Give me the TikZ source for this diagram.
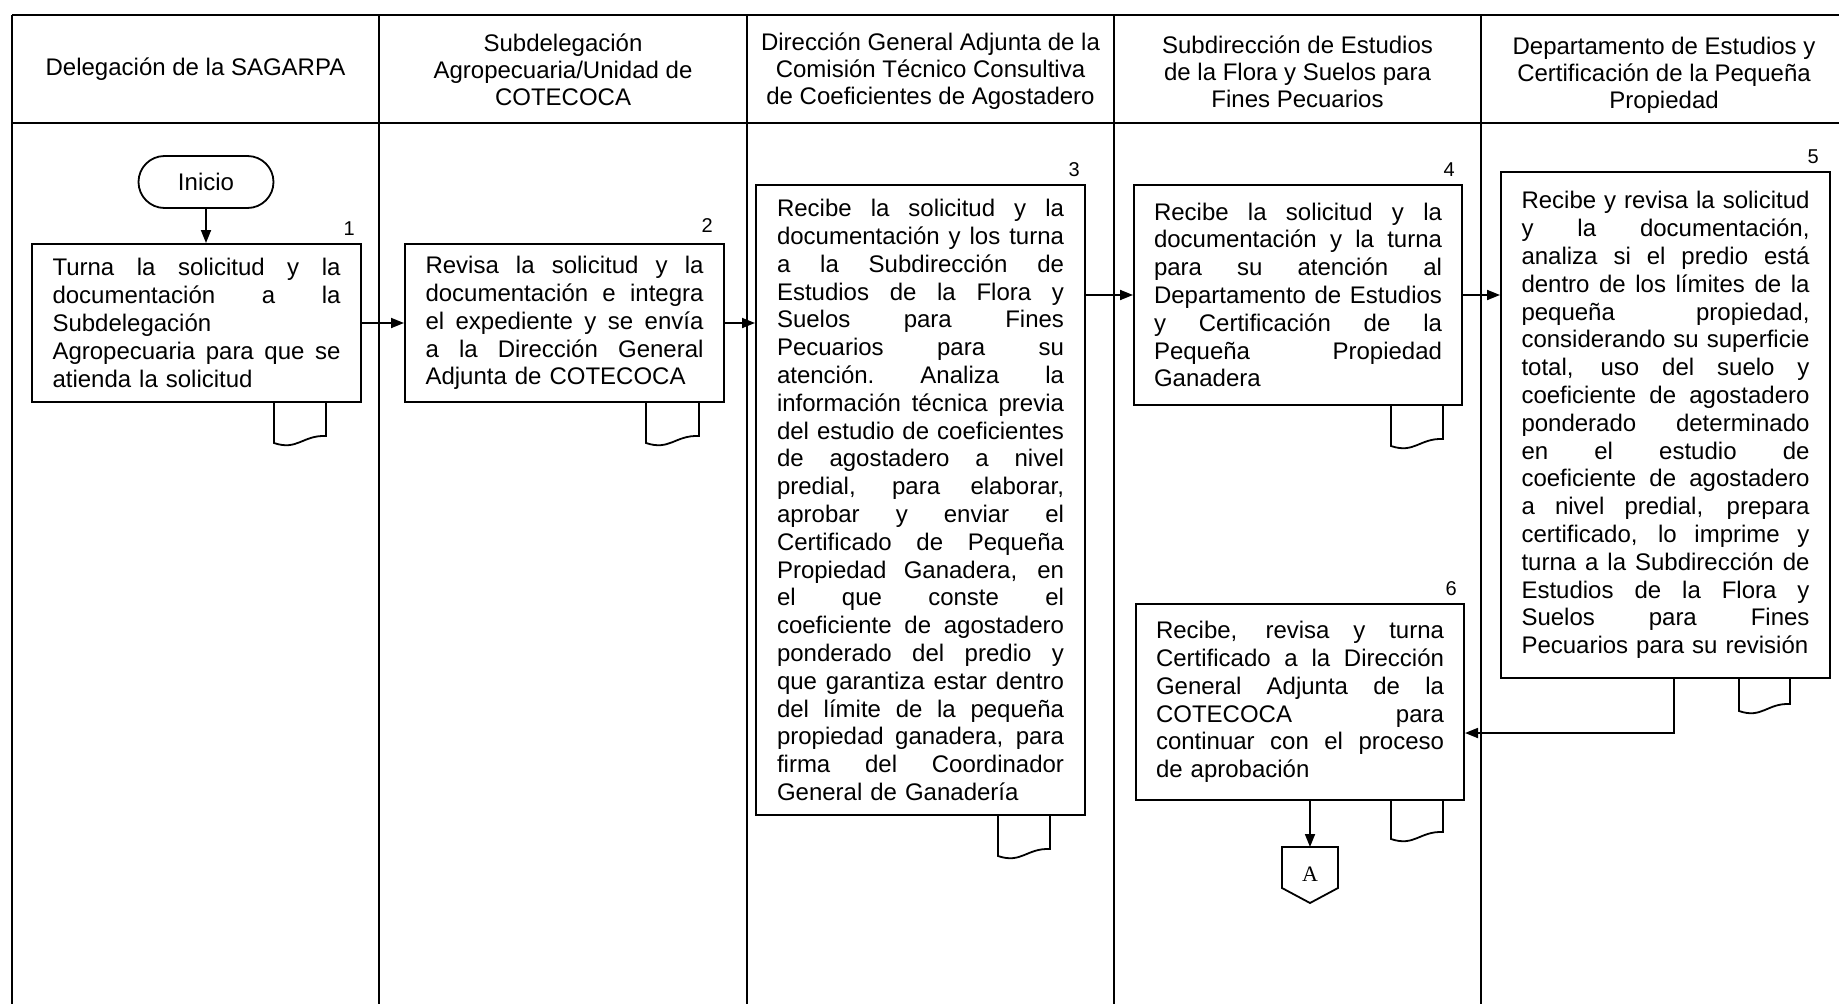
\documentclass[tikz,border=0pt]{standalone}
\usepackage{fontspec}
\setmainfont{Liberation Sans}
\newfontfamily\conffont{Liberation Serif}
\usetikzlibrary{arrows.meta,calc}
\setlength{\parindent}{0pt}
\newlength{\jw}
\newcommand{\jl}[1]{\leavevmode\hbox to \jw{\spaceskip=\fontdimen2\font plus 1fill\relax\xspaceskip=\spaceskip #1}\\}
\newcommand{\docmark}[4]{% left, right, top, height
  \draw[docline] (#1,#3) -- (#1,#3+#4) .. controls ({#1+0.45*(#2-#1)},#3+#4+8) and ({#1+0.55*(#2-#1)},#3+#4-8) .. (#2,#3+#4-7) -- (#2,#3);}
\begin{document}
\begin{tikzpicture}[x=1pt,y=-1pt,
  lane/.style={line width=1.5pt},
  box/.style={draw, line width=2pt, inner sep=0pt, align=left, font=\fontsize{24}{27.8}\selectfont},
  tw/.style={text width=#1, execute at begin node={\setlength{\jw}{#1}}},
  head/.style={align=center, font=\fontsize{24}{27}\selectfont, inner sep=0pt},
  num/.style={font=\fontsize{20}{22}\selectfont, anchor=south east, inner sep=0pt},
  flow/.style={line width=1.8pt, -{Triangle[length=13pt,width=10pt]}},
  docline/.style={line width=1.8pt}]
\useasboundingbox (0,0) rectangle (1839,1004);
% swimlanes
\draw[line width=2.5pt] (12,15) -- (1839,15);
\draw[line width=2.5pt] (12,123) -- (1839,123);
\foreach \x in {12,379,747,1114,1481} \draw[lane] (\x,15) -- (\x,1004);
% headers
\node[head] (h1) at (195.5,69) {Delegación de la SAGARPA};
\node[head] (h2) at (563,70) {Subdelegación\\Agropecuaria/Unidad de\\COTECOCA};
\node[head] (h3) at (930.5,71) {Dirección General Adjunta de la\\Comisión Técnico Consultiva\\de Coeficientes de Agostadero};
\node[head] (h4) at (1297.5,72) {Subdirección de Estudios\\de la Flora y Suelos para\\Fines Pecuarios};
\node[head] (h5) at (1664,75) {Departamento de Estudios y\\Certificación de la Pequeña\\Propiedad};
% start
\node[draw, line width=1.8pt, rounded corners=26pt, minimum width=135pt, minimum height=52pt, inner sep=0pt, font=\fontsize{24}{24}\selectfont] (ini) at (206,182) {Inicio};
% boxes
\node[box, tw=288pt, minimum width=329pt, minimum height=158pt] (b1) at (196.5,323) {%
\jl{Turna la solicitud y la}
\jl{documentación a la}
Subdelegación\\
\jl{Agropecuaria para que se}
atienda la solicitud};
\node[box, tw=278pt, minimum width=319pt, minimum height=158pt] (b2) at (564.5,323) {%
\jl{Revisa la solicitud y la}
\jl{documentación e integra}
\jl{el expediente y se envía}
\jl{a la Dirección General}
Adjunta de COTECOCA};
\node[box, tw=287pt, minimum width=329pt, minimum height=630pt] (b3) at (920.5,500) {%
\jl{Recibe la solicitud y la}
\jl{documentación y los turna}
\jl{a la Subdirección de}
\jl{Estudios de la Flora y}
\jl{Suelos para Fines}
\jl{Pecuarios para su}
\jl{atención. Analiza la}
\jl{información técnica previa}
\jl{del estudio de coeficientes}
\jl{de agostadero a nivel}
\jl{predial, para elaborar,}
\jl{aprobar y enviar el}
\jl{Certificado de Pequeña}
\jl{Propiedad Ganadera, en}
\jl{el que conste el}
\jl{coeficiente de agostadero}
\jl{ponderado del predio y}
\jl{que garantiza estar dentro}
\jl{del límite de la pequeña}
\jl{propiedad ganadera, para}
\jl{firma del Coordinador}
General de Ganadería};
\node[box, tw=288pt, minimum width=328pt, minimum height=220pt] (b4) at (1298,295) {%
\jl{Recibe la solicitud y la}
\jl{documentación y la turna}
\jl{para su atención al}
\jl{Departamento de Estudios}
\jl{y Certificación de la}
\jl{Pequeña Propiedad}
Ganadera};
\node[box, tw=288pt, minimum width=329pt, minimum height=506pt] (b5) at (1665.5,425) {%
\jl{Recibe y revisa la solicitud}
\jl{y la documentación,}
\jl{analiza si el predio está}
\jl{dentro de los límites de la}
\jl{pequeña propiedad,}
\jl{considerando su superficie}
\jl{total, uso del suelo y}
\jl{coeficiente de agostadero}
\jl{ponderado determinado}
\jl{en el estudio de}
\jl{coeficiente de agostadero}
\jl{a nivel predial, prepara}
\jl{certificado, lo imprime y}
\jl{turna a la Subdirección de}
\jl{Estudios de la Flora y}
\jl{Suelos para Fines}
Pecuarios para su revisión};
\node[box, tw=288pt, minimum width=328pt, minimum height=196pt] (b6) at (1300,702) {%
\jl{Recibe, revisa y turna}
\jl{Certificado a la Dirección}
\jl{General Adjunta de la}
\jl{COTECOCA para}
\jl{continuar con el proceso}
de aprobación};
% numbers
\node[num] (n1) at ($(b1.north east)+(-7,-7)$) {1};
\node[num] (n2) at ($(b2.north east)+(-12,-10)$) {2};
\node[num] (n3) at ($(b3.north east)+(-6,-7)$) {3};
\node[num] (n4) at ($(b4.north east)+(-8,-7)$) {4};
\node[num] (n5) at ($(b5.north east)+(-12,-7)$) {5};
\node[num] (n6) at ($(b6.north east)+(-8,-7)$) {6};
% document marks
\docmark{274}{326}{402}{41}
\docmark{646}{699}{402}{41}
\docmark{998}{1050}{815}{41}
\docmark{1391}{1443}{405}{41}
\docmark{1739}{1790}{678}{33}
\docmark{1391}{1443}{800}{39}
% off-page connector
\node[inner sep=0pt, font=\conffont\fontsize{22}{22}\selectfont] (A) at (1310,874) {A};
\draw[line width=1.8pt] ($(A)+(-28,-27)$) -- ($(A)+(28,-27)$) -- ($(A)+(28,14)$) -- ($(A)+(0,29)$) -- ($(A)+(-28,14)$) -- cycle;
% flows
\draw[flow] (ini.south) -- (ini.south |- b1.north);
\draw[flow] (b1.east) -- (b2.west);
\draw[flow] (b2.east) -- (b2.east -| b3.west);
\draw[flow] (b4.west -| b3.east) -- (b4.west);
\draw[flow] (b4.east) -- (b4.east -| b5.west);
\coordinate (t56) at (1674,733);
\draw[flow] (b5.south -| t56) -- (t56) -- (t56 -| b6.east);
\draw[flow] (b6.south -| A) -- ($(A)+(0,-27)$);
\end{tikzpicture}
\end{document}
